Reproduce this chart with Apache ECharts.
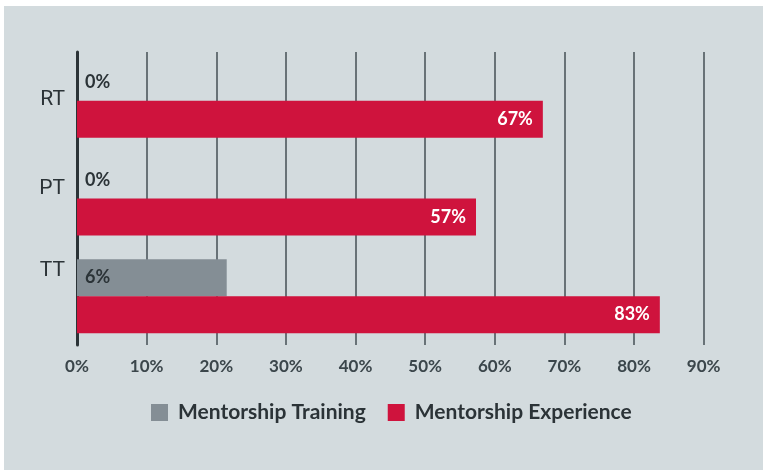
<!DOCTYPE html>
<html>
<head>
<meta charset="utf-8">
<script src="https://cdn.jsdelivr.net/npm/echarts@6/dist/echarts.min.js"></script>
<style>
  html, body { margin: 0; padding: 0; background: #ffffff; }
  #wrap { position: absolute; left: 0; top: 0; width: 763px; height: 471px; background: #ffffff; }
  #chart { position: absolute; left: 4px; top: 6px; width: 759px; height: 464px; background: #d3dbde; }
</style>
</head>
<body>
<div id="wrap"><div id="chart"></div></div>
<script>
// Data
var categories = ['RT', 'PT', 'TT'];
var seriesNames = ['Mentorship Training', 'Mentorship Experience'];
var trainingValues = [0, 0, 21.5];
var trainingLabels = ['0%', '0%', '6%'];
var experienceValues = [66.9, 57.3, 83.7];
var experienceLabels = ['67%', '57%', '83%'];
var tickValues = [0, 10, 20, 30, 40, 50, 60, 70, 80, 90];

var chart = echarts.init(document.getElementById('chart'), null, { renderer: 'canvas' });
var dark = '#2b3337';
var catStyle = { fontFamily: 'Roboto', fontSize: 21, color: dark };
var catRich = {
  c0: Object.assign({ padding: [0, 0, 2, 0] }, catStyle),
  c1: Object.assign({ padding: [0, 0, 19, 0] }, catStyle),
  c2: Object.assign({ padding: [0, 0, 50, 0] }, catStyle)
};
var option = {
  animation: false,
  backgroundColor: '#d3dbde',
  grid: { left: 73, top: 46, width: 626.7, height: 293, containLabel: false },
  xAxis: {
    type: 'value',
    min: tickValues[0],
    max: tickValues[tickValues.length - 1],
    interval: 10,
    axisLine: { show: false },
    axisTick: { show: false },
    splitLine: { show: true, lineStyle: { color: '#454f54', width: 1.5 } },
    axisLabel: {
      formatter: function (v) { return v + '%'; },
      fontFamily: 'Lato', fontWeight: 'bold', fontSize: 17, color: '#3b464b', margin: 13
    }
  },
  yAxis: {
    type: 'category',
    inverse: true,
    data: categories,
    axisLine: { show: true, lineStyle: { color: dark, width: 3 } },
    axisTick: { show: false },
    splitLine: { show: false },
    axisLabel: {
      margin: 12,
      formatter: function (v, i) { return '{c' + i + '|' + v + '}'; },
      rich: catRich
    }
  },
  legend: {
    bottom: 42,
    left: 142,
    itemWidth: 17,
    itemHeight: 17,
    itemGap: 22,
    icon: 'rect',
    data: seriesNames,
    textStyle: { fontFamily: 'Lato', fontWeight: 'bold', fontSize: 21, color: dark, padding: [0, 0, 0, 5] }
  },
  series: [
    {
      name: seriesNames[0],
      type: 'bar',
      data: trainingValues,
      barWidth: 37,
      barGap: '0%',
      itemStyle: { color: '#848e95' },
      label: {
        show: true, position: 'insideLeft', distance: 8,
        formatter: function (p) { return trainingLabels[p.dataIndex]; },
        fontFamily: 'Lato', fontWeight: 'bold', fontSize: 18, color: dark
      }
    },
    {
      name: seriesNames[1],
      type: 'bar',
      data: experienceValues,
      barWidth: 37,
      barGap: '0%',
      itemStyle: { color: '#cf133d' },
      label: {
        show: true, position: 'insideRight', distance: 10,
        formatter: function (p) { return experienceLabels[p.dataIndex]; },
        fontFamily: 'Lato', fontWeight: 'bold', fontSize: 18, color: '#ffffff'
      }
    }
  ]
};
chart.setOption(option);
</script>
</body>
</html>
